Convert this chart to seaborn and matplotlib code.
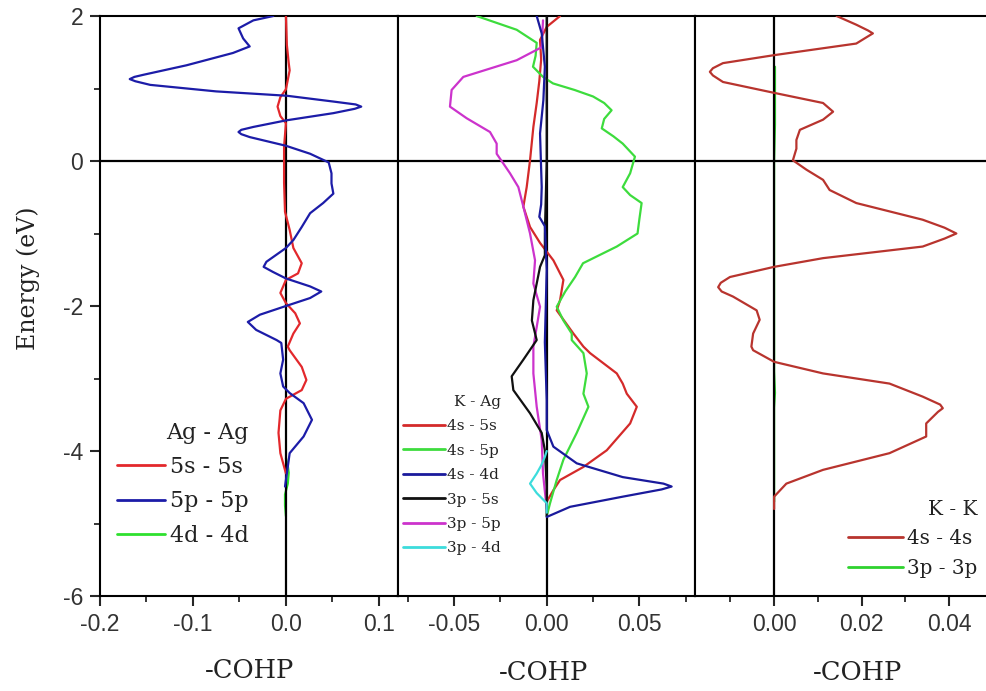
import matplotlib
matplotlib.use("Agg")
import matplotlib.pyplot as plt
from matplotlib.ticker import MultipleLocator
import seaborn as sns

# ---------------- data (Energy in eV, -COHP values) ----------------
# Panel 1: Ag - Ag
ag_55_E = [2.0, 1.6, 1.35, 1.25, 1.12, 0.99, 0.88, 0.75, 0.62, 0.52, 0.2, -0.3, -0.7,
           -0.95, -1.2, -1.41, -1.55, -1.64, -1.82, -1.96, -2.1, -2.24, -2.38, -2.56,
           -2.61, -2.84, -3.02, -3.16, -3.28, -3.44, -3.75, -4.03, -4.31]
ag_55_v = [0.0, 0.001, 0.003, 0.004, 0.002, 0.0, -0.006, -0.009, -0.006, 0.0, -0.002,
           -0.002, -0.001, 0.004, 0.008, 0.017, 0.013, 0.0, -0.006, 0.0, 0.010, 0.015,
           0.008, 0.002, 0.004, 0.017, 0.022, 0.017, 0.0, -0.006, -0.008, -0.006, 0.0]

ag_pp_E = [2.0, 1.94, 1.83, 1.69, 1.58, 1.49, 1.32, 1.19, 1.16, 1.13, 1.10, 1.05, 0.96,
           0.90, 0.82, 0.78, 0.75, 0.72, 0.66, 0.56, 0.47, 0.43, 0.40, 0.37, 0.33, 0.21,
           0.10, -0.02, -0.17, -0.31, -0.45, -0.58, -0.72, -0.91, -1.09, -1.20, -1.39,
           -1.46, -1.53, -1.62, -1.73, -1.80, -1.89, -2.0, -2.12, -2.22, -2.33, -2.47,
           -2.51, -2.74, -2.93, -3.11, -3.20, -3.34, -3.57, -3.80, -4.03, -4.31, -4.49]
ag_pp_v = [-0.0136, -0.035, -0.051, -0.046, -0.039, -0.057, -0.107, -0.153, -0.163,
           -0.168, -0.162, -0.146, -0.075, 0.001, 0.051, 0.075, 0.081, 0.074, 0.051, 0.0,
           -0.035, -0.048, -0.051, -0.048, -0.039, 0.0, 0.026, 0.046, 0.049, 0.049, 0.051,
           0.040, 0.026, 0.017, 0.008, 0.0, -0.021, -0.024, -0.014, 0.0, 0.026, 0.038,
           0.026, 0.0, -0.028, -0.041, -0.032, -0.010, -0.005, -0.003, -0.006, -0.003,
           0.004, 0.019, 0.028, 0.019, 0.004, 0.001, -0.001]

ag_dd_E = [-4.1, -4.2, -4.3, -4.45, -4.6, -4.75, -4.9]
ag_dd_v = [0.0, 0.002, 0.003, 0.002, -0.001, -0.001, 0.0]

# Panel 2: K - Ag
k_s5s_E = [2.0, 1.85, 1.67, 1.4, 1.1, 0.8, 0.47, 0.01, -0.36, -0.63, -0.91, -1.13, -1.37,
           -1.64, -1.92, -2.06, -2.38, -2.56, -2.65, -2.93, -3.07, -3.21, -3.39, -3.62,
           -3.99, -4.22, -4.40, -4.54, -4.7]
k_s5s_v = [0.0072, 0.0, -0.0036, -0.003, -0.004, -0.0054, -0.0072, -0.009, -0.0108,
           -0.0126, -0.009, -0.0036, 0.0036, 0.009, 0.0072, 0.0054, 0.0144, 0.0198, 0.0234,
           0.0378, 0.041, 0.0432, 0.0486, 0.045, 0.0324, 0.0198, 0.0072, 0.0036, 0.0]

k_s5p_E = [2.0, 1.81, 1.63, 1.45, 1.30, 1.16, 1.07, 0.98, 0.89, 0.80, 0.70, 0.58, 0.45,
           0.34, 0.24, 0.06, -0.17, -0.36, -0.47, -0.58, -0.80, -1.0, -1.18, -1.41, -1.60,
           -1.80, -2.01, -2.2, -2.38, -2.47, -2.65, -2.93, -3.21, -3.39, -3.75, -4.12,
           -4.40, -4.72, -4.9]
k_s5p_v = [-0.0378, -0.0162, -0.0054, -0.006, -0.0074, -0.002, 0.0034, 0.015, 0.025,
           0.031, 0.035, 0.031, 0.0297, 0.036, 0.041, 0.0476, 0.045, 0.041, 0.045, 0.0512,
           0.050, 0.049, 0.0378, 0.0196, 0.0153, 0.010, 0.0054, 0.009, 0.0135, 0.0135,
           0.0198, 0.0216, 0.0198, 0.0225, 0.0162, 0.009, 0.0054, 0.0018, 0.0]

k_s4d_E = [2.0, 1.76, 1.3, 0.84, 0.38, -0.36, -0.6, -0.77, -0.9, -1.5, -2.5, -3.3, -3.71,
           -3.94, -4.17, -4.36, -4.45, -4.49, -4.53, -4.63, -4.77, -4.91]
k_s4d_v = [-0.0054, -0.0027, -0.001, -0.0018, -0.0036, -0.0027, -0.003, -0.004, -0.001,
           0.0, -0.001, 0.0, 0.0, 0.0036, 0.0162, 0.041, 0.063, 0.0674, 0.062, 0.041,
           0.0126, 0.0]

k_p5s_E = [2.0, 1.0, 0.0, -1.0, -1.3, -1.46, -1.92, -2.2, -2.47, -2.74, -2.97, -3.16,
           -3.48, -3.75, -3.99, -4.5, -4.9]
k_p5s_v = [0.0, 0.0, 0.0, -0.001, -0.001, -0.0036, -0.0072, -0.008, -0.0054, -0.0126,
           -0.0189, -0.018, -0.009, -0.0027, -0.001, 0.0, 0.0]

k_p5p_E = [1.94, 1.57, 1.39, 1.16, 0.98, 0.75, 0.59, 0.40, 0.24, 0.10, -0.17, -0.36,
           -0.63, -1.0, -1.37, -1.69, -2.01, -2.29, -2.56, -2.93, -3.39, -3.85, -4.31, -4.8]
k_p5p_v = [-0.002, -0.0027, -0.0162, -0.045, -0.0513, -0.0522, -0.0432, -0.0306, -0.027,
           -0.027, -0.0198, -0.0153, -0.0126, -0.009, -0.0063, -0.0072, -0.0036, -0.0054,
           -0.0072, -0.0072, -0.0054, -0.0027, -0.002, 0.0]

k_p4d_E = [-4.0, -4.08, -4.2, -4.31, -4.45, -4.58, -4.72, -4.85]
k_p4d_v = [0.0, -0.001, -0.003, -0.0054, -0.009, -0.0054, 0.0, 0.0]

# Panel 3: K - K
kk_ss_E = [2.0, 1.88, 1.80, 1.76, 1.72, 1.62, 1.46, 1.35, 1.28, 1.23, 1.18, 1.09, 0.94,
           0.80, 0.68, 0.57, 0.43, 0.29, 0.17, 0.01, -0.12, -0.26, -0.40, -0.58, -0.81,
           -0.92, -1.0, -1.07, -1.18, -1.34, -1.46, -1.60, -1.68, -1.74, -1.80, -1.87,
           -2.06, -2.19, -2.38, -2.56, -2.61, -2.77, -2.93, -3.07, -3.25, -3.36, -3.41,
           -3.46, -3.62, -3.80, -4.03, -4.26, -4.45, -4.63, -4.8]
kk_ss_v = [0.0143, 0.0188, 0.0215, 0.0226, 0.0215, 0.0188, 0.0, -0.0117, -0.0140,
           -0.0147, -0.0140, -0.0117, 0.0, 0.0112, 0.0135, 0.0112, 0.0059, 0.0051, 0.0051,
           0.0043, 0.0074, 0.0112, 0.0127, 0.0188, 0.034, 0.039, 0.0417, 0.039, 0.034,
           0.0112, 0.0, -0.0101, -0.0122, -0.0128, -0.0120, -0.0094, -0.004, -0.0033,
           -0.0048, -0.0052, -0.0048, 0.0, 0.0112, 0.0264, 0.034, 0.038, 0.0386, 0.0375,
           0.0348, 0.0348, 0.0264, 0.0112, 0.0028, 0.0, 0.0]

kk_pp_E = [1.3, 1.0, 0.7, 0.5, 0.0, -2.9, -3.2, -3.4, -4.7]
kk_pp_v = [0.0002, 0.0002, 0.0002, 0.0002, 0.0, 0.0, 0.0002, 0.0, 0.0]

# legend labels / titles
titles = ["Ag - Ag", "K - Ag", "K - K"]
p1_labels = ["5s - 5s", "5p - 5p", "4d - 4d"]
p2_labels = ["4s - 5s", "4s - 5p", "4s - 4d", "3p - 5s", "3p - 5p", "3p - 4d"]
p3_labels = ["4s - 4s", "3p - 3p"]

# ---------------- styling ----------------
sns.set_style("white")
plt.rcParams["font.family"] = ["Liberation Sans", "DejaVu Sans"]
plt.rcParams["axes.unicode_minus"] = False

W, H = 986, 691
fig = plt.figure(figsize=(W / 100, H / 100), dpi=100)


def rect(x0, x1, y0=16, y1=596):
    return [x0 / W, 1 - y1 / H, (x1 - x0) / W, (y1 - y0) / H]


ax1 = fig.add_axes(rect(100, 397.5))
ax2 = fig.add_axes(rect(397.5, 695), sharey=ax1)
ax3 = fig.add_axes(rect(695, 990), sharey=ax1)
axes = [ax1, ax2, ax3]

serif = "DejaVu Serif"
tick_color = "#333333"


def draw(ax, E, v, color, lw=1.6, z=3):
    sns.lineplot(x=v, y=E, sort=False, estimator=None, color=color, linewidth=lw,
                 ax=ax, zorder=z, solid_joinstyle="round", solid_capstyle="round")
    return ax.lines[-1]


for ax in axes:
    ax.axvline(0, color="black", lw=1.6, zorder=2)
    ax.axhline(0, color="black", lw=1.6, zorder=2)

# panel 1
h1 = [draw(ax1, ag_55_E, ag_55_v, "#e3282c"),
      draw(ax1, ag_pp_E, ag_pp_v, "#1c1ca8"),
      draw(ax1, ag_dd_E, ag_dd_v, "#2ee02e", z=1)]
# panel 2
h2 = [draw(ax2, k_s5s_E, k_s5s_v, "#d42a2a"),
      draw(ax2, k_s5p_E, k_s5p_v, "#3ddc3d"),
      draw(ax2, k_p5p_E, k_p5p_v, "#cc33cc"),
      draw(ax2, k_p5s_E, k_p5s_v, "#111111"),
      draw(ax2, k_p4d_E, k_p4d_v, "#3cdcdc"),
      draw(ax2, k_s4d_E, k_s4d_v, "#1a1a9c")]
h2 = [h2[0], h2[1], h2[5], h2[3], h2[2], h2[4]]
# panel 3
h3 = [draw(ax3, kk_ss_E, kk_ss_v, "#b8342e"),
      draw(ax3, kk_pp_E, kk_pp_v, "#2ed22e", z=1)]

ax1.set_xlim(-0.2, 0.12)
ax2.set_xlim(-0.0805, 0.08)
ax3.set_xlim(-0.0181, 0.0494)
ax1.set_ylim(-6, 2)

ax1.xaxis.set_major_locator(MultipleLocator(0.1))
ax1.xaxis.set_minor_locator(MultipleLocator(0.05))
ax2.xaxis.set_major_locator(MultipleLocator(0.05))
ax2.xaxis.set_minor_locator(MultipleLocator(0.025))
ax3.xaxis.set_major_locator(MultipleLocator(0.02))
ax3.xaxis.set_minor_locator(MultipleLocator(0.01))
ax1.yaxis.set_major_locator(MultipleLocator(2))
ax1.yaxis.set_minor_locator(MultipleLocator(1))

ax1.xaxis.set_major_formatter(matplotlib.ticker.FormatStrFormatter("%.1f"))
ax2.xaxis.set_major_formatter(matplotlib.ticker.FormatStrFormatter("%.2f"))
ax3.xaxis.set_major_formatter(matplotlib.ticker.FormatStrFormatter("%.2f"))
ax1.yaxis.set_major_formatter(matplotlib.ticker.FormatStrFormatter("%d"))

for ax in axes:
    for s in ax.spines.values():
        s.set_linewidth(1.5)
        s.set_color("black")
    ax.tick_params(axis="x", which="major", direction="out", length=7, width=1.5,
                   bottom=True, top=False, labelsize=16.5, labelcolor=tick_color, pad=5)
    ax.tick_params(axis="x", which="minor", direction="out", length=4, width=1.3,
                   bottom=True, top=False)
    ax.set_facecolor("white")

ax1.tick_params(axis="y", which="major", direction="out", length=7, width=1.5,
                left=True, right=False, labelsize=16.5, labelcolor=tick_color, pad=5)
ax1.tick_params(axis="y", which="minor", direction="out", length=4, width=1.3,
                left=True, right=False)
for ax in (ax2, ax3):
    ax.tick_params(axis="y", which="both", left=False, right=False, labelleft=False)
ax3.spines["right"].set_visible(False)

# axis labels
ax1.set_ylabel("Energy (eV)", fontsize=17, family=serif, color="#222222")
ax1.yaxis.set_label_coords((28 - 100) / 297.5, (596 - 278) / 580)
ax1.yaxis.label.set_va("center")
ax1.set_xlabel("-COHP", fontsize=18.5, family=serif, color="#222222")
ax2.set_xlabel("-COHP", fontsize=18.5, family=serif, color="#222222")
ax3.set_xlabel("-COHP", fontsize=18.5, family=serif, color="#222222")
for ax, cx, cy, x0, w in [(ax1, 250, 671, 100, 297.5), (ax2, 543, 673, 397.5, 297.5),
                          (ax3, 858, 672, 695, 295)]:
    ax.xaxis.set_label_coords((cx - x0) / w, (596 - cy) / 580)
    ax.xaxis.label.set_va("center")


def legend(ax, handles, labels, title, size, x, y, hl, pad, sp):
    leg = ax.legend(handles, labels, title=title, loc="upper left",
                    bbox_to_anchor=(x / W, 1 - y / H), bbox_transform=fig.transFigure,
                    frameon=False, borderpad=0, borderaxespad=0, handlelength=hl,
                    handletextpad=pad, labelspacing=sp, alignment="right",
                    prop={"family": serif, "size": size},
                    title_fontproperties={"family": serif, "size": size})
    for t in leg.get_texts():
        t.set_color("#222222")
    leg.get_title().set_color("#222222")
    for lh in leg.get_lines():
        lh.set_linewidth(2.0)
    return leg


legend(ax1, h1, p1_labels, titles[0], 16, 117, 422, 2.16, 0.23, 0.55)
legend(ax2, h2, p2_labels, titles[1], 11, 403, 395, 2.75, 0.15, 0.68)
legend(ax3, h3, p3_labels, titles[2], 14.3, 848, 500, 2.76, 0.2, 0.52)

fig.savefig("out.png", dpi=100, facecolor="white")
